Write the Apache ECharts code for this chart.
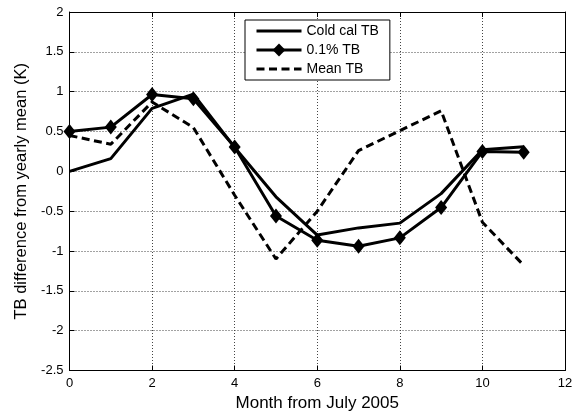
<!DOCTYPE html>
<html>
<head>
<meta charset="utf-8">
<script src="https://cdn.jsdelivr.net/npm/echarts@6/dist/echarts.min.js"></script>
<style>html,body{margin:0;padding:0;background:#fff}#c{width:576px;height:413px}</style>
</head>
<body>
<div id="c"></div>
<script>
var months = [0, 1, 2, 3, 4, 5, 6, 7, 8, 9, 10, 11];
var coldCalTB = [0, 0.16, 0.79, 0.97, 0.3, -0.32, -0.8, -0.71, -0.65, -0.28, 0.27, 0.31];
var pct01TB = [0.5, 0.555, 0.965, 0.91, 0.305, -0.56, -0.865, -0.94, -0.835, -0.455, 0.25, 0.24];
var meanTB = [0.45, 0.34, 0.87, 0.55, -0.3, -1.1, -0.5, 0.26, 0.51, 0.76, -0.64, -1.18];
var seriesNames = ['Cold cal TB', '0.1% TB', 'Mean TB'];
var xTitle = 'Month from July 2005';
var yTitle = 'TB difference from yearly mean (K)';

function pairs(v) { return months.map(function (m, i) { return [m, v[i]]; }); }

var font = 'Liberation Sans, Arial, sans-serif';
var chart = echarts.init(document.getElementById('c'), null, { renderer: 'canvas' });
var gridLine = { show: true, lineStyle: { color: '#444', type: [1, 2], width: 1 } };
var axisLine = { show: true, onZero: false, lineStyle: { color: '#000', width: 1 } };
var tick = { show: true, inside: true, length: 5, lineStyle: { color: '#000' } };

chart.setOption({
  animation: false,
  backgroundColor: '#fff',
  grid: { left: 69.5, right: 11, top: 12, bottom: 42.5, containLabel: false, outerBoundsMode: 'none' },
  legend: {
    show: true,
    left: 245, top: 20,
    orient: 'vertical',
    itemWidth: 45, itemHeight: 16, itemGap: 5,
    padding: [4, 11, 4, 10],
    borderColor: '#000', borderWidth: 1, backgroundColor: '#fff',
    lineStyle: { width: 3 },
    textStyle: { fontFamily: font, fontSize: 14, color: '#000' },
    data: [
      { name: seriesNames[0], itemStyle: { opacity: 0 } },
      { name: seriesNames[1] },
      { name: seriesNames[2], itemStyle: { opacity: 0 } }
    ]
  },
  xAxis: [{
    type: 'value', min: 0, max: 12, interval: 2, position: 'bottom',
    name: xTitle, nameLocation: 'middle', nameGap: 24,
    nameTextStyle: { fontFamily: font, fontSize: 17, color: '#000' },
    axisLine: axisLine, axisTick: tick, splitLine: gridLine,
    axisLabel: { fontFamily: font, fontSize: 13, color: '#000', margin: 6 }
  }, {
    type: 'value', min: 0, max: 12, interval: 2, position: 'top',
    axisLine: axisLine, axisTick: tick, splitLine: { show: false }, axisLabel: { show: false }
  }],
  yAxis: [{
    type: 'value', min: -2.5, max: 2, interval: 0.5, position: 'left',
    name: yTitle, nameLocation: 'middle', nameGap: 37,
    nameTextStyle: { fontFamily: font, fontSize: 16.5, color: '#000' },
    axisLine: axisLine, axisTick: tick, splitLine: gridLine,
    axisLabel: { fontFamily: font, fontSize: 13, color: '#000', margin: 6 }
  }, {
    type: 'value', min: -2.5, max: 2, interval: 0.5, position: 'right',
    axisLine: axisLine, axisTick: tick, splitLine: { show: false }, axisLabel: { show: false }
  }],
  series: [{
    name: seriesNames[0], type: 'line', data: pairs(coldCalTB),
    symbol: 'none', color: '#000',
    lineStyle: { color: '#000', width: 3 }
  }, {
    name: seriesNames[1], type: 'line', data: pairs(pct01TB),
    symbol: 'diamond', symbolSize: [12, 15], color: '#000',
    itemStyle: { color: '#000' },
    lineStyle: { color: '#000', width: 3 }
  }, {
    name: seriesNames[2], type: 'line', data: pairs(meanTB),
    symbol: 'none', color: '#000',
    lineStyle: { color: '#000', width: 3, type: [8, 4.5] }
  }]
});
</script>
</body>
</html>
